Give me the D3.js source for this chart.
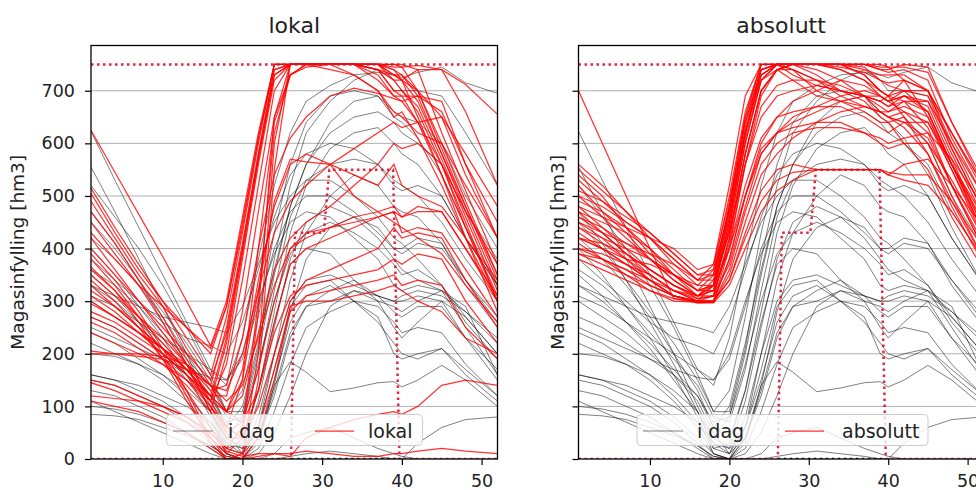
<!DOCTYPE html>
<html>
<head>
<meta charset="utf-8">
<script src="https://cdn.jsdelivr.net/npm/d3@7"></script>
<style>
  body { margin: 0; background: #fff; overflow: hidden; }
  svg { display: block; font-family: 'DejaVu Sans', sans-serif; }
</style>
</head>
<body>
<script>
// uke-punkter som verdiene er lest av på
const weeks = [1, 4, 7, 10, 13, 16, 18, 20, 22, 24, 26, 28, 31, 34, 37, 39, 40, 42, 45, 48, 52];

// "i dag" (grå) - samme i begge paneler
const idag = [
  [623, 530, 440, 350, 260, 170, 140, 230, 380, 520, 620, 680, 710, 730, 735, 730, 725, 735, 745, 715, 695],
  [555, 470, 380, 290, 200, 100, 40, 80, 200, 350, 480, 560, 620, 650, 660, 640, 620, 600, 560, 470, 380],
  [470, 410, 340, 260, 180, 90, 20, 30, 130, 280, 430, 520, 590, 620, 630, 600, 580, 560, 500, 420, 330],
  [420, 380, 330, 270, 200, 130, 60, 100, 220, 360, 480, 560, 640, 680, 690, 650, 640, 610, 540, 440, 330],
  [400, 350, 290, 230, 160, 80, 10, 0, 60, 200, 340, 430, 500, 540, 520, 480, 470, 460, 410, 330, 250],
  [380, 340, 300, 260, 230, 215, 200, 260, 360, 460, 540, 580, 600, 590, 560, 530, 520, 500, 450, 380, 300],
  [350, 310, 260, 210, 150, 90, 30, 20, 110, 250, 380, 450, 480, 460, 420, 380, 360, 340, 320, 280, 230],
  [330, 300, 260, 220, 170, 120, 60, 40, 130, 260, 370, 400, 390, 340, 300, 250, 230, 260, 300, 270, 200],
  [300, 270, 240, 200, 160, 110, 50, 10, 60, 170, 290, 330, 340, 300, 270, 200, 190, 200, 210, 170, 120],
  [330, 310, 290, 270, 260, 250, 240, 290, 370, 450, 500, 530, 530, 500, 460, 420, 410, 380, 330, 260, 190],
  [270, 250, 220, 190, 160, 120, 70, 80, 180, 300, 390, 430, 450, 430, 400, 370, 350, 360, 330, 270, 200],
  [250, 230, 210, 190, 170, 155, 150, 200, 300, 390, 450, 470, 460, 420, 380, 330, 320, 330, 320, 250, 160],
  [240, 220, 190, 160, 120, 70, 20, 10, 80, 200, 300, 340, 350, 330, 310, 300, 300, 310, 300, 230, 150],
  [220, 200, 180, 150, 110, 60, 10, 0, 40, 130, 240, 290, 300, 320, 310, 300, 310, 320, 310, 280, 220],
  [200, 195, 180, 160, 130, 90, 40, 20, 60, 150, 260, 310, 330, 300, 260, 220, 200, 190, 210, 160, 110],
  [160, 150, 130, 110, 80, 40, 10, 0, 40, 140, 185, 165, 128, 135, 145, 147, 137, 150, 178, 150, 100],
  [110, 90, 70, 50, 30, 10, 0, 0, 0, 0, 5, 10, 15, 10, 5, 0, 0, 30, 60, 75, 80],
  [150, 140, 120, 100, 70, 30, 0, 0, 0, 10, 40, 50, 60, 40, 20, 10, 5, 0, 0, 0, 0],
  [130, 120, 100, 80, 50, 20, 0, 0, 20, 90, 180, 250, 280, 300, 290, 260, 240, 250, 240, 180, 120],
  [100, 95, 85, 70, 50, 25, 5, 0, 10, 50, 120, 200, 290, 320, 300, 290, 280, 300, 320, 290, 160],
  [85, 82, 75, 60, 45, 25, 5, 0, 30, 140, 280, 380, 440, 460, 440, 400, 390, 410, 400, 340, 270],
  [520, 460, 400, 330, 250, 160, 90, 130, 270, 430, 560, 640, 690, 700, 690, 660, 650, 640, 600, 500, 400],
  [450, 400, 340, 280, 220, 150, 90, 90, 210, 380, 520, 620, 680, 720, 740, 720, 700, 700, 690, 620, 520],
  [360, 330, 290, 240, 190, 140, 80, 70, 170, 320, 460, 530, 560, 570, 560, 520, 510, 520, 500, 420, 330],
  [310, 290, 260, 230, 200, 170, 150, 190, 290, 400, 470, 500, 500, 470, 430, 400, 400, 420, 410, 340, 260],
  [160, 150, 140, 120, 100, 70, 30, 10, 40, 120, 230, 290, 320, 340, 310, 280, 270, 290, 290, 230, 170]
];

// "lokal" (rød, venstre panel)
const lokal = [
  [625, 545, 465, 385, 300, 215, 300, 460, 620, 750, 750, 750, 750, 750, 750, 740, 720, 650, 540, 440, 310],
  [515, 440, 370, 300, 230, 160, 270, 430, 600, 750, 750, 750, 750, 750, 750, 750, 750, 740, 620, 510, 370],
  [505, 430, 360, 300, 250, 200, 290, 450, 610, 750, 750, 750, 750, 750, 740, 730, 730, 690, 580, 470, 330],
  [490, 420, 350, 290, 210, 140, 250, 410, 580, 740, 750, 750, 750, 750, 750, 720, 700, 660, 560, 450, 300],
  [470, 410, 340, 270, 190, 110, 220, 390, 570, 730, 750, 750, 750, 750, 750, 745, 745, 748, 740, 712, 655],
  [450, 390, 330, 260, 180, 90, 200, 380, 560, 720, 750, 750, 750, 750, 720, 690, 690, 690, 680, 560, 420],
  [430, 380, 330, 290, 250, 210, 290, 440, 610, 750, 750, 750, 740, 730, 700, 650, 660, 610, 520, 420, 300],
  [400, 350, 300, 250, 200, 150, 240, 400, 570, 730, 750, 750, 750, 750, 750, 740, 730, 700, 600, 490, 350],
  [390, 340, 280, 210, 130, 40, 0, 0, 150, 550, 750, 750, 750, 750, 740, 700, 700, 670, 570, 460, 320],
  [380, 330, 270, 200, 120, 30, 0, 10, 200, 600, 750, 750, 750, 750, 750, 730, 720, 680, 580, 480, 350],
  [365, 320, 260, 190, 110, 40, 10, 40, 280, 650, 750, 750, 750, 750, 740, 720, 720, 740, 740, 660, 520],
  [340, 300, 250, 190, 130, 60, 20, 60, 300, 620, 730, 750, 750, 730, 700, 660, 650, 620, 600, 520, 420],
  [330, 290, 250, 210, 170, 120, 120, 230, 400, 540, 610, 650, 690, 705, 695, 685, 680, 690, 660, 560, 450],
  [310, 280, 240, 200, 160, 110, 90, 170, 340, 480, 560, 580, 560, 540, 520, 560, 520, 500, 480, 420, 340],
  [300, 270, 240, 210, 170, 120, 90, 150, 320, 490, 570, 565, 560, 500, 470, 450, 440, 420, 390, 330, 260],
  [295, 270, 240, 210, 180, 140, 130, 200, 320, 430, 490, 520, 560, 590, 620, 640, 630, 640, 650, 580, 480],
  [280, 260, 230, 200, 160, 120, 90, 120, 240, 360, 420, 450, 480, 520, 560, 600, 590, 600, 560, 470, 370],
  [270, 250, 220, 190, 150, 100, 50, 70, 170, 300, 400, 430, 440, 460, 470, 480, 460, 470, 470, 400, 310],
  [260, 240, 210, 180, 140, 90, 40, 40, 130, 260, 370, 400, 420, 440, 460, 470, 430, 440, 430, 360, 270],
  [240, 220, 200, 180, 150, 110, 60, 40, 100, 200, 300, 340, 360, 380, 400, 440, 420, 430, 420, 340, 250],
  [205, 200, 195, 190, 170, 140, 110, 140, 230, 330, 400, 420, 440, 450, 460, 470, 460, 480, 470, 400, 300],
  [200, 200, 200, 195, 180, 140, 90, 70, 130, 240, 310, 330, 340, 350, 360, 380, 370, 390, 380, 300, 220],
  [150, 140, 120, 100, 80, 50, 20, 10, 60, 170, 280, 310, 320, 330, 340, 350, 330, 340, 330, 250, 190],
  [145, 130, 110, 90, 70, 40, 10, 0, 40, 150, 290, 300, 300, 310, 320, 330, 320, 300, 280, 230, 200],
  [120, 115, 110, 100, 80, 50, 15, 5, 10, 10, 5, 40, 60, 75, 85, 90, 85, 100, 140, 150, 140],
  [110, 100, 90, 70, 50, 20, 0, 0, 5, 10, 10, 15, 10, 5, 5, 10, 10, 15, 20, 15, 10],
  [420, 360, 300, 240, 180, 120, 230, 400, 580, 740, 750, 750, 750, 750, 750, 750, 745, 700, 590, 480, 340],
  [360, 320, 270, 220, 170, 110, 180, 340, 520, 700, 750, 750, 750, 750, 730, 690, 680, 640, 540, 420, 280],
  [350, 310, 270, 230, 180, 130, 140, 280, 470, 650, 730, 750, 750, 750, 750, 730, 720, 700, 650, 540, 420],
  [320, 290, 250, 210, 160, 100, 60, 150, 400, 640, 730, 745, 750, 750, 740, 700, 690, 640, 560, 440, 300]
];

// "absolutt" (rød, høyre panel)
const absolutt = [
  [700, 600, 500, 400, 305, 300, 330, 480, 650, 750, 750, 750, 750, 750, 745, 720, 710, 700, 660, 560, 430],
  [560, 520, 470, 420, 370, 330, 360, 500, 660, 750, 750, 750, 750, 750, 750, 740, 735, 740, 720, 610, 500],
  [540, 500, 440, 390, 350, 320, 350, 480, 640, 740, 750, 740, 720, 700, 690, 680, 670, 690, 680, 580, 460],
  [520, 470, 430, 380, 340, 310, 330, 460, 620, 730, 750, 740, 700, 680, 670, 660, 660, 680, 660, 560, 430],
  [500, 480, 450, 420, 380, 340, 370, 520, 690, 750, 750, 750, 750, 750, 750, 740, 740, 750, 745, 640, 520],
  [480, 440, 400, 360, 330, 310, 340, 470, 630, 740, 750, 730, 710, 700, 690, 680, 690, 720, 700, 600, 480],
  [470, 450, 430, 400, 350, 320, 330, 430, 580, 700, 740, 750, 750, 740, 720, 700, 690, 680, 630, 520, 400],
  [460, 430, 390, 350, 320, 300, 300, 400, 560, 690, 740, 720, 690, 680, 660, 640, 640, 650, 600, 500, 380],
  [450, 420, 400, 380, 350, 310, 320, 440, 600, 720, 750, 750, 750, 750, 730, 700, 690, 700, 690, 590, 470],
  [440, 420, 380, 340, 310, 300, 310, 420, 580, 700, 740, 750, 740, 720, 690, 660, 650, 640, 610, 520, 410],
  [430, 400, 370, 340, 310, 298, 300, 380, 500, 600, 650, 680, 700, 720, 710, 690, 680, 690, 670, 570, 440],
  [420, 410, 390, 360, 330, 310, 310, 370, 480, 580, 620, 650, 670, 690, 700, 690, 680, 690, 660, 560, 440],
  [410, 380, 350, 320, 300, 298, 298, 350, 450, 540, 580, 610, 640, 660, 670, 660, 650, 660, 640, 550, 420],
  [400, 380, 360, 330, 310, 300, 300, 340, 430, 510, 550, 560, 550, 550, 550, 550, 540, 530, 520, 470, 380],
  [390, 370, 350, 330, 310, 300, 300, 340, 420, 490, 530, 545, 550, 550, 550, 550, 545, 540, 540, 490, 400],
  [380, 360, 340, 320, 305, 297, 297, 330, 400, 470, 510, 530, 550, 550, 550, 550, 540, 560, 570, 520, 440],
  [500, 460, 420, 380, 340, 310, 320, 440, 600, 720, 750, 750, 730, 700, 680, 650, 640, 600, 550, 460, 360],
  [530, 490, 450, 420, 380, 340, 350, 480, 640, 740, 750, 750, 750, 750, 730, 700, 690, 650, 580, 480, 370],
  [550, 510, 470, 430, 390, 350, 360, 470, 620, 730, 750, 750, 750, 745, 735, 720, 715, 720, 700, 620, 510],
  [490, 470, 440, 400, 360, 320, 330, 450, 610, 720, 740, 740, 720, 690, 670, 660, 650, 630, 580, 490, 380],
  [470, 430, 390, 360, 330, 305, 310, 410, 560, 670, 710, 720, 720, 710, 690, 670, 660, 670, 650, 560, 450],
  [460, 440, 410, 380, 350, 320, 320, 400, 520, 610, 650, 660, 670, 670, 650, 630, 620, 640, 640, 560, 460],
  [440, 410, 380, 350, 320, 300, 300, 380, 500, 590, 620, 630, 640, 640, 620, 600, 590, 600, 600, 530, 420],
  [420, 400, 370, 340, 310, 297, 298, 360, 470, 560, 600, 620, 630, 630, 620, 610, 600, 610, 620, 570, 480],
  [510, 490, 460, 430, 390, 350, 350, 460, 620, 730, 750, 750, 750, 750, 750, 750, 745, 720, 650, 550, 430],
  [400, 390, 370, 350, 320, 305, 310, 420, 580, 700, 740, 750, 750, 740, 720, 690, 680, 660, 620, 520, 400],
  [390, 380, 360, 340, 320, 310, 330, 450, 620, 740, 750, 750, 750, 750, 740, 730, 730, 730, 700, 590, 470],
  [480, 460, 440, 420, 400, 360, 370, 490, 650, 750, 750, 750, 750, 750, 750, 745, 745, 745, 735, 640, 530],
  [450, 430, 410, 390, 370, 340, 340, 430, 560, 650, 690, 700, 710, 700, 690, 680, 670, 680, 680, 600, 500],
  [420, 400, 380, 370, 350, 330, 330, 400, 500, 580, 620, 640, 660, 680, 690, 690, 680, 700, 700, 620, 520]
];

// restriksjoner (prikket)
const maxLevel = 750;
const minRuleWeeks = [1, 26.1, 26.6, 30.2, 30.9, 38.9, 39.7, 52];
const minRuleValues = [0, 0, 430, 430, 550, 550, 0, 0];

const yTicks = [0, 100, 200, 300, 400, 500, 600, 700];
const xTicks = [10, 20, 30, 40, 50];

const width = 976;
const height = 490;
const plotTop = 45.5;
const plotBottom = 459;

const svg = d3.select('body').append('svg').attr('width', width).attr('height', height);

const y = d3.scaleLinear().domain([0, 786]).range([plotBottom, plotTop]);

drawPanel({
  name: 'lokal', left: 91, right: 497.5, red: lokal, showY: true, ylabelX: 24,
  legend: { x: 166.5, w: 256, greyX: 173, greyText: 228, redX: 315, redText: 368 }
});
drawPanel({
  name: 'absolutt', left: 578.5, right: 983.5, red: absolutt, showY: false, ylabelX: 564,
  legend: { x: 637, w: 291, greyX: 643, greyText: 697, redX: 785, redText: 842 }
});

function drawPanel(p) {
  const x = d3.scaleLinear().domain([1, 52]).range([p.left, p.right]);
  const g = svg.append('g');

  svg.append('clipPath').attr('id', 'clip-' + p.name)
    .append('rect')
    .attr('x', p.left).attr('y', plotTop)
    .attr('width', p.right - p.left).attr('height', plotBottom - plotTop);

  // grid
  g.append('g').selectAll('line')
    .data(yTicks.filter((d) => d > 0))
    .join('line')
    .attr('x1', p.left).attr('x2', p.right)
    .attr('y1', (d) => y(d)).attr('y2', (d) => y(d))
    .attr('stroke', '#b0b0b0').attr('stroke-width', 1);

  const line = d3.line().x((d, i) => x(weeks[i])).y((d) => y(d));
  const plot = g.append('g').attr('clip-path', `url(#clip-${p.name})`);

  plot.append('g').selectAll('path').data(idag).join('path')
    .attr('d', line)
    .attr('fill', 'none').attr('stroke', '#000')
    .attr('stroke-opacity', 0.5).attr('stroke-width', 1);

  plot.append('g').selectAll('path').data(p.red).join('path')
    .attr('d', line)
    .attr('fill', 'none').attr('stroke', '#ff0000')
    .attr('stroke-opacity', 0.8).attr('stroke-width', 1.25);

  // restriksjonslinjer
  const rule = d3.line().x((d) => x(d[0])).y((d) => y(d[1]));
  plot.append('path')
    .datum([[26.1, 0], [39.7, 0]])
    .attr('d', rule).attr('fill', 'none')
    .attr('stroke', '#222').attr('stroke-width', 2.5).attr('stroke-dasharray', '2.5 3.5');
  plot.append('path')
    .datum([[1, maxLevel], [52, maxLevel]])
    .attr('d', rule).attr('fill', 'none')
    .attr('stroke', '#e0102a').attr('stroke-opacity', 0.9)
    .attr('stroke-width', 2.5).attr('stroke-dasharray', '2.5 3.5');
  plot.append('path')
    .datum(d3.zip(minRuleWeeks, minRuleValues))
    .attr('d', rule).attr('fill', 'none')
    .attr('stroke', '#e0102a').attr('stroke-opacity', 0.9)
    .attr('stroke-width', 2.5).attr('stroke-dasharray', '2.5 3.5');

  // akser
  const axisY = d3.axisLeft(y).tickValues(yTicks).tickSize(6).tickPadding(10)
    .tickFormat(p.showY ? d3.format('d') : () => '');
  const gy = g.append('g').attr('transform', `translate(${p.left},0)`).call(axisY);
  const axisX = d3.axisBottom(x).tickValues(xTicks).tickSize(6).tickPadding(10);
  const gx = g.append('g').attr('transform', `translate(0,${plotBottom})`).call(axisX);
  [gy, gx].forEach((a) => {
    a.select('.domain').remove();
    a.selectAll('line').attr('stroke', '#000').attr('stroke-width', 1.2);
    a.selectAll('text').attr('font-size', 17.5).attr('fill', '#222')
      .attr('font-family', "'DejaVu Sans', sans-serif");
  });

  // ramme
  g.append('rect')
    .attr('x', p.left).attr('y', plotTop)
    .attr('width', p.right - p.left).attr('height', plotBottom - plotTop)
    .attr('fill', 'none').attr('stroke', '#000').attr('stroke-width', 1.3);

  // tittel og y-tekst
  g.append('text')
    .attr('x', (p.left + p.right) / 2).attr('y', 33)
    .attr('text-anchor', 'middle').attr('font-size', 22).attr('fill', '#222')
    .text(p.name);
  g.append('text')
    .attr('transform', `translate(${p.ylabelX},${(plotTop + plotBottom) / 2}) rotate(-90)`)
    .attr('text-anchor', 'middle').attr('font-size', 18.5).attr('fill', '#222')
    .text('Magasinfylling [hm3]');

  // legend
  const L = p.legend;
  const lg = g.append('g');
  lg.append('rect')
    .attr('x', L.x).attr('y', 414.5).attr('width', L.w).attr('height', 31).attr('rx', 4)
    .attr('fill', '#fff').attr('fill-opacity', 0.8)
    .attr('stroke', '#cccccc').attr('stroke-width', 1);
  lg.append('line')
    .attr('x1', L.greyX).attr('x2', L.greyX + 40).attr('y1', 431).attr('y2', 431)
    .attr('stroke', '#000').attr('stroke-opacity', 0.5).attr('stroke-width', 1);
  lg.append('text').attr('x', L.greyText).attr('y', 437.5)
    .attr('font-size', 19).attr('fill', '#222').text('i dag');
  lg.append('line')
    .attr('x1', L.redX).attr('x2', L.redX + 39).attr('y1', 431).attr('y2', 431)
    .attr('stroke', '#ff0000').attr('stroke-opacity', 0.8).attr('stroke-width', 1.25);
  lg.append('text').attr('x', L.redText).attr('y', 437.5)
    .attr('font-size', 19).attr('fill', '#222').text(p.name);
}
</script>
</body>
</html>
